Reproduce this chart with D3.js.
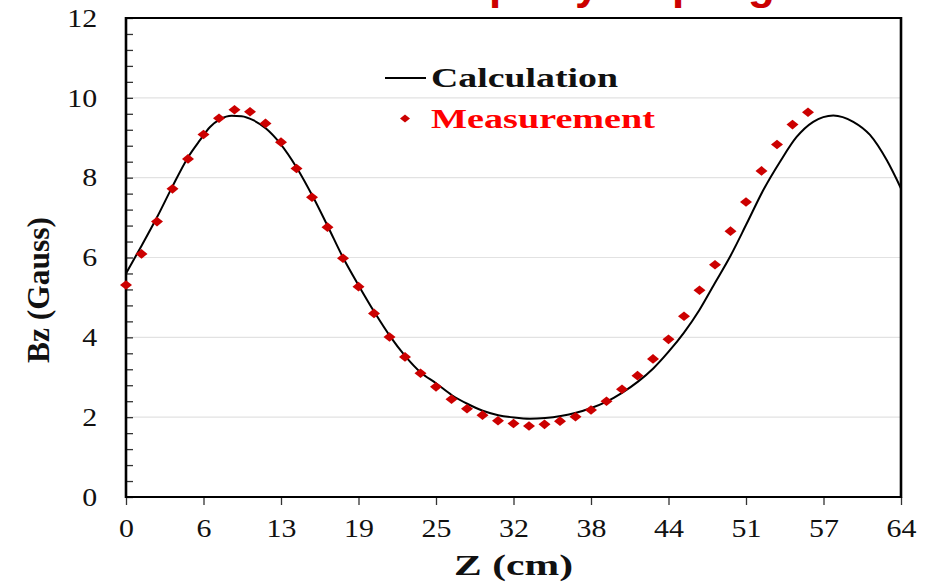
<!DOCTYPE html>
<html>
<head>
<meta charset="utf-8">
<script src="https://cdn.jsdelivr.net/npm/d3@7"></script>
<style>
  html, body { margin: 0; padding: 0; background: #fff; }
  svg { display: block; }
  .serif { font-family: "Liberation Serif", "Times New Roman", Times, "Tinos", serif; }
</style>
</head>
<body>
<svg id="chart" width="934" height="583"></svg>
<script>
// ---- data ----
const measZ = [0, 1.28, 2.56, 3.84, 5.12, 6.40, 7.68, 8.96, 10.24, 11.52, 12.80, 14.08, 15.36, 16.64, 17.92,
  19.20, 20.48, 21.76, 23.04, 24.32, 25.60, 26.88, 28.16, 29.44, 30.72, 32.00, 33.28, 34.56, 35.84, 37.12,
  38.40, 39.68, 40.96, 42.24, 43.52, 44.80, 46.08, 47.36, 48.64, 49.92, 51.20, 52.48, 53.76, 55.04, 56.32];
const measBz = [5.31, 6.09, 6.90, 7.72, 8.47, 9.08, 9.49, 9.70, 9.65, 9.36, 8.89, 8.23, 7.51, 6.76, 5.98,
  5.27, 4.60, 4.01, 3.51, 3.10, 2.76, 2.45, 2.21, 2.05, 1.91, 1.84, 1.78, 1.82, 1.90, 2.01,
  2.18, 2.40, 2.70, 3.04, 3.46, 3.95, 4.53, 5.18, 5.82, 6.66, 7.39, 8.17, 8.83, 9.33, 9.64];

const calcZ = [0, 1.24, 2.58, 3.82, 5.14, 6.11, 6.94, 7.76, 8.73, 9.55, 10.51, 11.56, 12.72, 14.10, 15.44,
  16.68, 17.92, 19.27, 20.54, 21.80, 23.06, 24.34, 25.60, 26.92, 28.22, 29.46, 30.74, 32.04, 33.36, 34.62,
  35.90, 37.16, 38.42, 39.69, 40.96, 42.28, 43.54, 44.81, 46.08, 47.34, 48.61, 49.88, 51.26, 52.63, 54.01,
  55.38, 56.75, 58.41, 60.06, 61.44, 62.82, 64];
const calcBz = [5.60, 6.27, 7.02, 7.77, 8.52, 8.94, 9.27, 9.46, 9.55, 9.54, 9.44, 9.23, 8.86, 8.25, 7.52,
  6.77, 6.00, 5.27, 4.62, 4.03, 3.53, 3.12, 2.85, 2.55, 2.33, 2.16, 2.05, 1.99, 1.96, 1.98,
  2.03, 2.11, 2.23, 2.39, 2.61, 2.89, 3.22, 3.64, 4.12, 4.68, 5.35, 6.02, 6.85, 7.69, 8.40,
  9.02, 9.40, 9.56, 9.40, 9.07, 8.44, 7.73];

const xTickValues = [0, 6.4, 12.8, 19.2, 25.6, 32, 38.4, 44.8, 51.2, 57.6, 64];
const xTickLabels = ["0", "6", "13", "19", "25", "32", "38", "44", "51", "57", "64"];
const yTickValues = [0, 2, 4, 6, 8, 10, 12];
const yTickLabels = ["0", "2", "4", "6", "8", "10", "12"];
const yGridValues = [2, 4, 6, 8, 10];
const yMinorTicks = [0, 0.4, 0.8, 1.2, 1.6, 2, 2.4, 2.8, 3.2, 3.6, 4, 4.4, 4.8, 5.2, 5.6, 6, 6.4, 6.8, 7.2, 7.6,
  8, 8.4, 8.8, 9.2, 9.6, 10, 10.4, 10.8, 11.2, 11.6, 12];

const seriesNames = ["Calculation", "Measurement"];
const titleLetters = ["p", "y", "p", "g"];

// ---- layout ----
const L = 126, R = 901, T = 18, B = 497;
const svg = d3.select("#chart");

const x = d3.scaleLinear().domain([0, 64]).range([L, R]);
const y = d3.scaleLinear().domain([0, 12]).range([B, T]);

// cut-off title (only descenders visible, as in the reference)
const titleX = [489, 575, 672, 748];
const title = svg.append("text")
  .attr("y", -1)
  .attr("font-family", "'Liberation Sans', Arial, sans-serif")
  .attr("font-weight", "bold")
  .attr("font-size", 44)
  .attr("fill", "#cc0000");
title.selectAll("tspan").data(titleLetters).join("tspan")
  .attr("x", (d, i) => titleX[i])
  .text(d => d);

// grid
svg.append("g").selectAll("line").data(yGridValues).join("line")
  .attr("x1", L).attr("x2", R)
  .attr("y1", d => y(d)).attr("y2", d => y(d))
  .attr("stroke", "#e2e2e2").attr("stroke-width", 1.2);

// y minor ticks (inside)
const yMinor = svg.append("g").attr("transform", `translate(${L},0)`)
  .call(d3.axisRight(y).tickValues(yMinorTicks).tickSize(7).tickFormat(""));
yMinor.select(".domain").remove();
yMinor.selectAll(".tick line").attr("stroke", "#333").attr("stroke-width", 1.3);

// y labels
const yAx = svg.append("g").attr("transform", `translate(${L},0)`)
  .call(d3.axisLeft(y).tickValues(yTickValues).tickSize(0).tickPadding(0)
    .tickFormat((d, i) => yTickLabels[i]));
yAx.select(".domain").remove();
yAx.attr("font-family", null).attr("font-size", null);
yAx.selectAll(".tick text")
  .attr("class", "serif")
  .attr("x", -25)
  .attr("transform", "scale(1.15,1)")
  .style("font-size", "26px")
  .attr("fill", "#111");

// x axis
const xAx = svg.append("g").attr("transform", `translate(0,${B})`)
  .call(d3.axisBottom(x).tickValues(xTickValues).tickSize(8)
    .tickFormat((d, i) => xTickLabels[i]));
xAx.select(".domain").remove();
xAx.attr("font-family", null).attr("font-size", null);
xAx.selectAll(".tick line").attr("stroke", "#333").attr("stroke-width", 1.3);
xAx.selectAll(".tick text")
  .attr("class", "serif")
  .attr("y", 40).attr("dy", null)
  .attr("transform", "scale(1.15,1)")
  .style("font-size", "26px")
  .attr("fill", "#111");

// frame
svg.append("rect").attr("x", L).attr("y", T).attr("width", R - L).attr("height", B - T)
  .attr("fill", "none").attr("stroke", "#000").attr("stroke-width", 2);
svg.append("line").attr("x1", L).attr("x2", L).attr("y1", T - 1).attr("y2", B + 1)
  .attr("stroke", "#000").attr("stroke-width", 2.6);
svg.append("line").attr("x1", R).attr("x2", R).attr("y1", T - 1).attr("y2", B + 1)
  .attr("stroke", "#000").attr("stroke-width", 2.6);

// calculation line
const calcData = calcZ.map((z, i) => [z, calcBz[i]]);
svg.append("path")
  .datum(calcData)
  .attr("fill", "none")
  .attr("stroke", "#000")
  .attr("stroke-width", 2)
  .attr("d", d3.line().x(d => x(d[0])).y(d => y(d[1])).curve(d3.curveMonotoneX));

// measurement diamonds
function diamond(w, h) {
  const p = d3.path();
  p.moveTo(0, -h); p.lineTo(w, 0); p.lineTo(0, h); p.lineTo(-w, 0); p.closePath();
  return p.toString();
}
const measData = measZ.map((z, i) => [z, measBz[i]]);
svg.append("g").selectAll("path").data(measData).join("path")
  .attr("d", diamond(6, 4.8))
  .attr("transform", d => `translate(${x(d[0])},${y(d[1])})`)
  .attr("fill", "#cc0000");

// legend
const lg = svg.append("g");
lg.append("line").attr("x1", 385).attr("x2", 426).attr("y1", 78).attr("y2", 78)
  .attr("stroke", "#000").attr("stroke-width", 1.8);
lg.append("text").attr("class", "serif").attr("x", 431).attr("y", 87)
  .style("font-weight", "bold").style("font-size", "28px")
  .attr("textLength", 187).attr("lengthAdjust", "spacingAndGlyphs")
  .attr("fill", "#111").text(seriesNames[0]);
lg.append("path").attr("d", diamond(5, 4)).attr("transform", "translate(405,118.5)")
  .attr("fill", "#cc0000");
lg.append("text").attr("class", "serif").attr("x", 431).attr("y", 128)
  .style("font-weight", "bold").style("font-size", "28px")
  .attr("textLength", 224).attr("lengthAdjust", "spacingAndGlyphs")
  .attr("fill", "#ff0000").text(seriesNames[1]);

// axis titles
svg.append("text").attr("class", "serif")
  .attr("x", 454).attr("y", 575)
  .style("font-weight", "bold").style("font-size", "30px")
  .attr("textLength", 119).attr("lengthAdjust", "spacingAndGlyphs")
  .attr("fill", "#111").text("Z (cm)");

svg.append("text").attr("class", "serif")
  .attr("transform", "translate(49,363) rotate(-90)")
  .attr("x", 0).attr("y", 0)
  .style("font-weight", "bold").style("font-size", "31px")
  .attr("textLength", 146).attr("lengthAdjust", "spacingAndGlyphs")
  .attr("fill", "#111").text("Bz (Gauss)");
</script>
</body>
</html>
